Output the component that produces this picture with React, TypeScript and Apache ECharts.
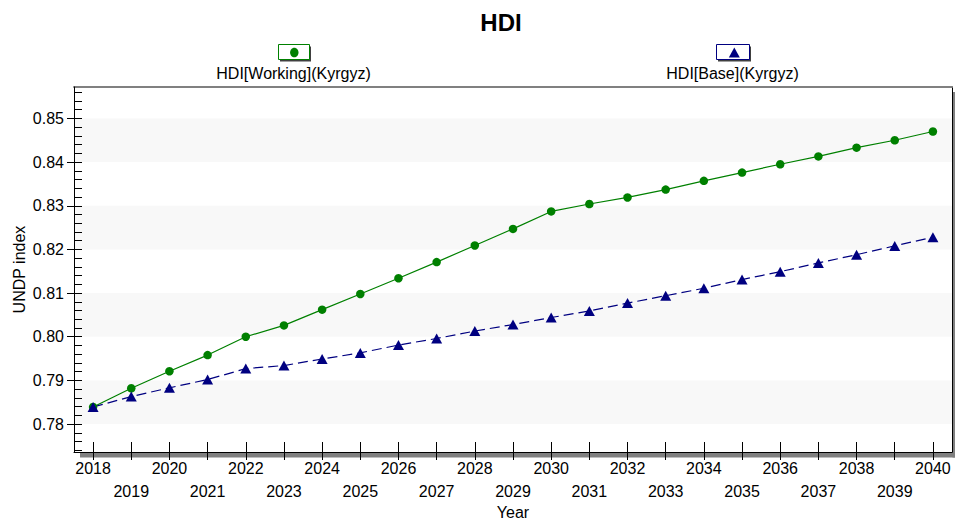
import React, { useEffect, useRef } from "react";
import * as echarts from "echarts";

const years = [
  "2018", "2019", "2020", "2021", "2022", "2023", "2024", "2025", "2026", "2027", "2028", "2029",
  "2030", "2031", "2032", "2033", "2034", "2035", "2036", "2037", "2038", "2039", "2040",
];
const working = [
  0.7839, 0.7882, 0.7921, 0.7958, 0.8, 0.8026, 0.8062, 0.8098, 0.8134, 0.8171, 0.8209, 0.8247,
  0.8287, 0.8304, 0.8319, 0.8337, 0.8357, 0.8376, 0.8395, 0.8413, 0.8433, 0.845, 0.847,
];
const base = [
  0.7839, 0.7863, 0.7883, 0.7902, 0.7927, 0.7934, 0.7949, 0.7963, 0.7981, 0.7996, 0.8013, 0.8028,
  0.8044, 0.8059, 0.8077, 0.8094, 0.8111, 0.8131, 0.8149, 0.8169, 0.8188, 0.8208, 0.8228,
];
const yLabels = [0.78, 0.79, 0.8, 0.81, 0.82, 0.83, 0.84, 0.85];
const yMinorTicks = Array.from({ length: 42 }, (_, i) => +(0.774 + i * 0.002).toFixed(3));
const bands = [
  [0.78, 0.79],
  [0.8, 0.81],
  [0.82, 0.83],
  [0.84, 0.85],
];
const Y_MIN = 0.7736;
const Y_MAX = 0.8572;

const FONT = "'Liberation Sans', Arial, sans-serif";

export default function App() {
  const ref = useRef<HTMLDivElement>(null);
  useEffect(() => {
    if (!ref.current) return;
    const chart = echarts.init(ref.current, null, { renderer: "svg" });
    const gridLeft = 74;
    const gridTop = 87;
    const gridRight = 952;
    const gridBottom = 452;
    chart.setOption({
      animation: false,
      backgroundColor: "#ffffff",
      textStyle: { fontFamily: FONT },
      title: {
        text: "HDI",
        left: 496,
        top: 5,
        textAlign: "center",
        textStyle: { fontSize: 24, fontWeight: "bold", color: "#000", fontFamily: FONT },
      },
      grid: {
        left: gridLeft,
        top: gridTop,
        right: 955 - gridRight,
        bottom: 519 - gridBottom,
        containLabel: false,
        outerBoundsMode: "none",
      },
      xAxis: [
        {
          type: "category",
          data: years,
          boundaryGap: true,
          position: "bottom",
          name: "Year",
          nameLocation: "middle",
          nameGap: 52,
          nameMoveOverlap: false,
          nameTextStyle: { fontSize: 16, color: "#000", fontFamily: FONT },
          axisLine: { show: true, lineStyle: { color: "#000", width: 1 } },
          axisTick: { show: true, alignWithLabel: true, inside: false, length: 8, lineStyle: { color: "#000" } },
          axisLabel: {
            show: true,
            interval: 0,
            fontSize: 16,
            color: "#000",
            fontFamily: FONT,
            margin: 5,
            lineHeight: 23,
            formatter: (v: string, i: number) => (i % 2 ? "\n" + v : v),
          },
          splitLine: { show: false },
          z: 5,
        },
        {
          type: "category",
          data: years,
          boundaryGap: true,
          position: "bottom",
          axisLine: { show: false },
          axisTick: { show: true, alignWithLabel: true, inside: true, length: 10, lineStyle: { color: "#000" } },
          axisLabel: { show: false },
          splitLine: { show: false },
          z: 5,
        },
        {
          type: "category",
          data: years,
          boundaryGap: true,
          position: "top",
          axisLine: { show: true, lineStyle: { color: "#808080", width: 2 } },
          axisTick: { show: false },
          axisLabel: { show: false },
          splitLine: { show: false },
        },
      ],
      yAxis: [
        {
          type: "value",
          min: Y_MIN,
          max: Y_MAX,
          position: "left",
          name: "UNDP index",
          nameLocation: "middle",
          nameGap: 47,
          nameMoveOverlap: false,
          nameTextStyle: { fontSize: 16, color: "#000", fontFamily: FONT },
          axisLine: { show: true, lineStyle: { color: "#000", width: 1 } },
          axisTick: { show: true, inside: false, length: 7, customValues: yLabels, lineStyle: { color: "#000" } },
          axisLabel: {
            show: true,
            customValues: yLabels,
            fontSize: 16,
            color: "#000",
            fontFamily: FONT,
            margin: 10,
            formatter: (v: number) => v.toFixed(2),
          },
          splitLine: { show: false },
          z: 5,
        },
        {
          type: "value",
          min: Y_MIN,
          max: Y_MAX,
          position: "left",
          axisLine: { show: false },
          axisTick: { show: true, inside: true, length: 8, customValues: yMinorTicks, lineStyle: { color: "#000" } },
          axisLabel: { show: false },
          splitLine: { show: false },
          z: 5,
        },
        {
          type: "value",
          min: Y_MIN,
          max: Y_MAX,
          position: "right",
          axisLine: { show: true, lineStyle: { color: "#000", width: 1 } },
          axisTick: { show: false },
          axisLabel: { show: false },
          splitLine: { show: false },
        },
      ],
      graphic: [
        { type: "rect", shape: { x: 80, y: gridBottom, width: 955 - 80, height: 5.5 }, style: { fill: "#808080" }, z: 0 },
        { type: "rect", shape: { x: gridRight + 0.5, y: 92, width: 4, height: gridBottom - 92 + 5.5 }, style: { fill: "#808080" }, z: 0 },
        { type: "rect", shape: { x: 280, y: 46.5, width: 31, height: 15 }, style: { fill: "#404040" }, z: 10 },
        { type: "rect", shape: { x: 278.5, y: 44.5, width: 31, height: 15 }, style: { fill: "#fff", stroke: "#008000", lineWidth: 1 }, z: 11 },
        { type: "ellipse", shape: { cx: 294.3, cy: 52.5, rx: 4.2, ry: 4.8 }, style: { fill: "#008000" }, z: 12 },
        {
          type: "text",
          x: 293.5,
          y: 73.5,
          style: { text: "HDI[Working](Kyrgyz)", fontSize: 16, fontFamily: FONT, fill: "#000", textAlign: "center", textVerticalAlign: "middle" },
          z: 12,
        },
        { type: "rect", shape: { x: 718, y: 46.5, width: 33, height: 15 }, style: { fill: "#404040" }, z: 10 },
        { type: "rect", shape: { x: 716.5, y: 44.5, width: 33, height: 15 }, style: { fill: "#fff", stroke: "#000080", lineWidth: 1 }, z: 11 },
        {
          type: "polygon",
          shape: { points: [[728.8, 57.5], [734.3, 47.5], [739.8, 57.5]] },
          style: { fill: "#000080" },
          z: 12,
        },
        {
          type: "text",
          x: 732.5,
          y: 73.5,
          style: { text: "HDI[Base](Kyrgyz)", fontSize: 16, fontFamily: FONT, fill: "#000", textAlign: "center", textVerticalAlign: "middle" },
          z: 12,
        },
      ],
      series: [
        {
          name: "HDI[Working](Kyrgyz)",
          type: "line",
          data: working,
          xAxisIndex: 0,
          yAxisIndex: 0,
          symbol: "circle",
          symbolSize: 8.5,
          showAllSymbol: true,
          lineStyle: { color: "#008000", width: 1.2 },
          itemStyle: { color: "#008000" },
          z: 3,
          markArea: {
            silent: true,
            itemStyle: { color: "#f8f8f8" },
            data: bands.map(([a, b]) => [{ yAxis: a }, { yAxis: b }]),
            z: 1,
          },
        },
        {
          name: "HDI[Base](Kyrgyz)",
          type: "line",
          data: base,
          xAxisIndex: 0,
          yAxisIndex: 0,
          symbol: "triangle",
          symbolSize: [11, 10],
          showAllSymbol: true,
          lineStyle: { color: "#000080", width: 1.2, type: [10, 5] },
          itemStyle: { color: "#000080" },
          z: 3,
        },
      ],
    });
    return () => chart.dispose();
  }, []);
  return (
    <div
      ref={ref}
      style={{ position: "fixed", left: 0, top: 0, width: 955, height: 519, background: "#fff" }}
    />
  );
}
